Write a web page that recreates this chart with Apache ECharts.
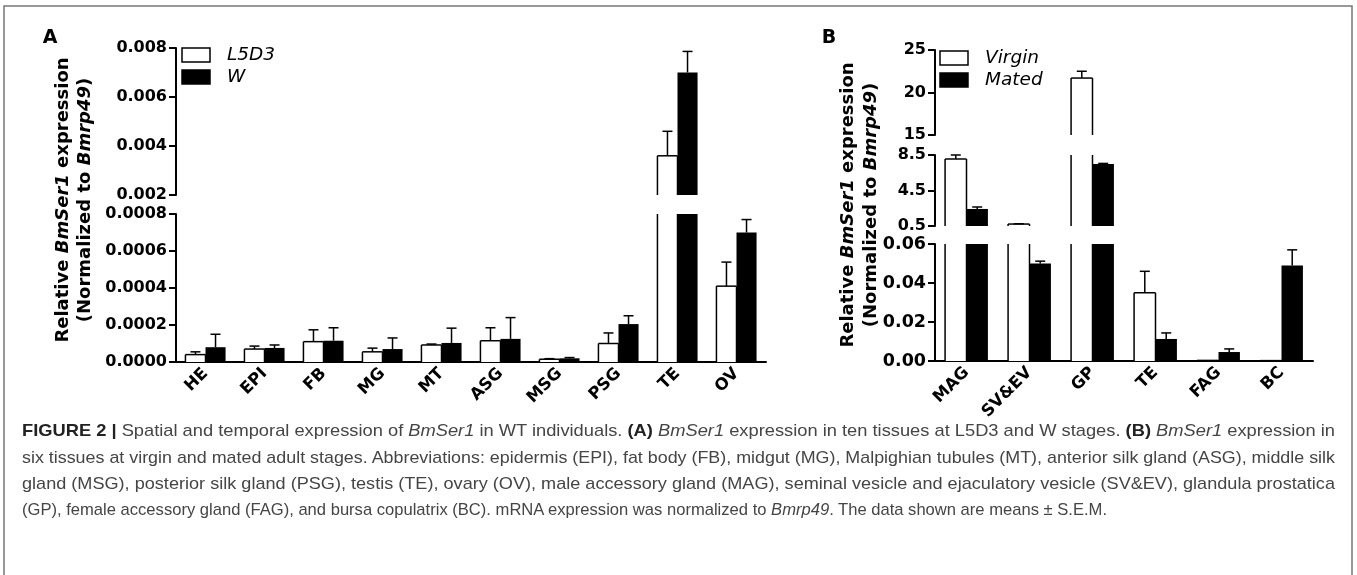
<!DOCTYPE html>
<html>
<head>
<meta charset="utf-8">
<title>BmSer1 expression</title>
<script src="https://cdn.jsdelivr.net/npm/echarts@6/dist/echarts.min.js"></script>
<style>
html, body { margin: 0; padding: 0; background: #fff; }
#wrap { position: relative; width: 1357px; height: 575px; overflow: hidden; }
#chart { position: absolute; left: 0; top: 0; width: 1357px; height: 575px; }
.cap {
  position: absolute; left: 22px; white-space: nowrap;
  font-family: "Liberation Sans", Arial, sans-serif; font-size: 17px; line-height: 20px;
  color: #454545; transform-origin: 0 50%;
}
.cap b { color: #222; }
</style>
</head>
<body>
<div id="wrap">
  <div id="chart"></div>
  <div class="cap" style="top:421px" data-w="1313"><b>FIGURE 2 |</b> Spatial and temporal expression of <i>BmSer1</i> in WT individuals. <b>(A)</b> <i>BmSer1</i> expression in ten tissues at L5D3 and W stages. <b>(B)</b> <i>BmSer1</i> expression in</div>
  <div class="cap" style="top:448px" data-w="1313">six tissues at virgin and mated adult stages. Abbreviations: epidermis (EPI), fat body (FB), midgut (MG), Malpighian tubules (MT), anterior silk gland (ASG), middle silk</div>
  <div class="cap" style="top:474px" data-w="1313">gland (MSG), posterior silk gland (PSG), testis (TE), ovary (OV), male accessory gland (MAG), seminal vesicle and ejaculatory vesicle (SV&amp;EV), glandula prostatica</div>
  <div class="cap" style="top:500px" data-w="1085">(GP), female accessory gland (FAG), and bursa copulatrix (BC). mRNA expression was normalized to <i>Bmrp49</i>. The data shown are means ± S.E.M.</div>
</div>
<script>
// panel A: ten tissues, L5D3 vs W (mean and +SEM)
var tissuesA = ['HE', 'EPI', 'FB', 'MG', 'MT', 'ASG', 'MSG', 'PSG', 'TE', 'OV'];
var l5d3Mean = [0.00004, 0.00007, 0.00011, 0.000055, 0.000092, 0.000115, 0.000015, 0.0001, 0.0036, 0.00041];
var l5d3Sem = [0.000015, 0.000016, 0.000064, 0.00002, 0.000005, 0.00007, 0.000003, 0.000057, 0.001, 0.00013];
var wMean = [0.00008, 0.000076, 0.000115, 0.00007, 0.000103, 0.000125, 0.00002, 0.000205, 0.0070, 0.0007];
var wSem = [0.00007, 0.000016, 0.00007, 0.00006, 0.00008, 0.000115, 0.000004, 0.000045, 0.00086, 0.00007];

// panel B: six tissues, virgin vs mated
var tissuesB = ['MAG', 'SV&EV', 'GP', 'TE', 'FAG', 'BC'];
var virginMean = [8.05, 0.72, 21.7, 0.035, 0.0003, 0.0002];
var virginSem = [0.45, 0.03, 0.8, 0.011, 0, 0];
var matedMean = [2.42, 0.050, 7.5, 0.0113, 0.0046, 0.049];
var matedSem = [0.22, 0.0012, 0.05, 0.0031, 0.0016, 0.008];

// broken axis segments, tick values
var ticksAHigh = [0.002, 0.004, 0.006, 0.008];
var ticksALow = [0, 0.0002, 0.0004, 0.0006, 0.0008];
var ticksBHigh = [15, 20, 25];
var ticksBMid = [0.5, 4.5, 8.5];
var ticksBLow = [0, 0.02, 0.04, 0.06];

var legendA = ['L5D3', 'W'];
var legendB = ['Virgin', 'Mated'];

var FONT = 'DejaVu Sans';

var segments = [
  { cats: tissuesA, ticks: ticksAHigh, digits: 3, left: 176, top: 48, width: 590, height: 147, fs: 16, white: [l5d3Mean, l5d3Sem], black: [wMean, wSem] },
  { cats: tissuesA, ticks: ticksALow, digits: 4, left: 176, top: 214, width: 590, height: 148, fs: 16, bottom: true, white: [l5d3Mean, l5d3Sem], black: [wMean, wSem] },
  { cats: tissuesB, ticks: ticksBHigh, digits: 0, left: 935, top: 50, width: 378, height: 85, fs: 16, white: [virginMean, virginSem], black: [matedMean, matedSem] },
  { cats: tissuesB, ticks: ticksBMid, digits: 1, left: 935, top: 155, width: 378, height: 71, fs: 16, white: [virginMean, virginSem], black: [matedMean, matedSem] },
  { cats: tissuesB, ticks: ticksBLow, digits: 2, left: 935, top: 244, width: 378, height: 117, fs: 17.5, bottom: true, white: [virginMean, virginSem], black: [matedMean, matedSem] }
];

function barItem(side, hollow) {
  return function (params, api) {
    var cs = params.coordSys;
    var i = api.value(0), v = api.value(1), e = api.value(2);
    var w = api.size([1, 0])[0] * 0.34;
    var xc = api.coord([i, 0])[0];
    var x0 = side < 0 ? xc - w : xc, x1 = x0 + w, xm = (x0 + x1) / 2;
    var top = cs.y, bot = cs.y + cs.height;
    function clampY(y) { return Math.max(top, Math.min(bot, y)); }
    function line(xa, ya, xb, yb) {
      return { type: 'line', shape: { x1: xa, y1: ya, x2: xb, y2: yb }, style: { stroke: '#000', lineWidth: 1.5 } };
    }
    var yBase = clampY(api.coord([i, 0])[1]);
    var yVal = api.coord([i, v])[1];
    var yTop = clampY(yVal);
    var kids = [];
    if (yTop < yBase) {
      kids.push({ type: 'rect', shape: { x: x0, y: yTop, width: w, height: yBase - yTop }, style: { fill: hollow ? '#fff' : '#000' } });
      if (hollow) {
        kids.push(line(x0, yBase, x0, yTop), line(x1, yBase, x1, yTop));
        if (yVal >= top) kids.push(line(x0, yTop, x1, yTop));
      }
    }
    if (e > 0) {
      var yErr = api.coord([i, v + e])[1];
      var ya = clampY(yVal), yb = clampY(yErr);
      if (yb < ya) kids.push(line(xm, ya, xm, yb));
      if (yErr >= top && yErr <= bot) kids.push(line(xm - 5, yErr, xm + 5, yErr));
    }
    return { type: 'group', children: kids };
  };
}

var grids = [], xAxes = [], yAxes = [], series = [];
segments.forEach(function (seg, s) {
  grids.push({ left: seg.left, top: seg.top, width: seg.width, height: seg.height, outerBoundsMode: 'none' });
  xAxes.push({
    gridIndex: s, type: 'category', data: seg.cats, show: !!seg.bottom,
    axisLine: { lineStyle: { color: '#000', width: 2 } },
    axisTick: { alignWithLabel: true, length: 7, lineStyle: { color: '#000', width: 2 } },
    axisLabel: { rotate: 45, interval: 0, margin: 9, color: '#000', fontFamily: FONT, fontWeight: 'bold', fontSize: 16.5 }
  });
  yAxes.push({
    gridIndex: s, type: 'value',
    min: seg.ticks[0], max: seg.ticks[seg.ticks.length - 1],
    axisLine: { show: true, lineStyle: { color: '#000', width: 2 } },
    axisTick: { show: true, length: 7, lineStyle: { color: '#000', width: 2 }, customValues: seg.ticks },
    axisLabel: {
      customValues: seg.ticks, margin: 9, color: '#000', fontFamily: FONT, fontWeight: 'bold', fontSize: seg.fs,
      formatter: (function (d) { return function (v) { return Number(v).toFixed(d); }; })(seg.digits)
    },
    splitLine: { show: false }
  });
  [[seg.white, -1, true], [seg.black, 1, false]].forEach(function (g) {
    series.push({
      type: 'custom', xAxisIndex: s, yAxisIndex: s, z: 3, silent: true,
      renderItem: barItem(g[1], g[2]),
      encode: { x: 0, y: 1 },
      data: seg.cats.map(function (c, i) { return [i, g[0][0][i], g[0][1][i]]; })
    });
  });
});

function titleText(x, y, a, b, c) {
  var base = { fontFamily: FONT, fontWeight: 'bold', fontSize: 18, fill: '#000' };
  return {
    type: 'text', x: x, y: y, rotation: Math.PI / 2,
    style: {
      text: '{n|' + a + '}{i|' + b + '}{n|' + c + '}',
      rich: { n: base, i: Object.assign({ fontStyle: 'italic' }, base) },
      textAlign: 'center', textVerticalAlign: 'middle'
    }
  };
}

function legendItems(x, y, names) {
  var out = [];
  names.forEach(function (n, k) {
    out.push({
      type: 'rect', shape: { x: x, y: y + k * 22, width: 28, height: 14 },
      style: { fill: k === 0 ? '#fff' : '#000', stroke: '#000', lineWidth: 1.5 }
    });
    out.push({
      type: 'text', x: x + 45, y: y + k * 22 + 7,
      style: { text: n, fontFamily: FONT, fontStyle: 'italic', fontSize: 18.5, fill: '#000', textAlign: 'left', textVerticalAlign: 'middle' }
    });
  });
  return out;
}

var graphics = [
  { type: 'rect', shape: { x: 4, y: 6, width: 1348, height: 600 }, style: { fill: 'none', stroke: '#777', lineWidth: 1.5 } },
  { type: 'text', x: 50, y: 38, style: { text: 'A', fontFamily: FONT, fontWeight: 'bold', fontSize: 19, fill: '#000', textAlign: 'center', textVerticalAlign: 'middle' } },
  { type: 'text', x: 829, y: 38, style: { text: 'B', fontFamily: FONT, fontWeight: 'bold', fontSize: 19, fill: '#000', textAlign: 'center', textVerticalAlign: 'middle' } },
  titleText(63, 200, 'Relative ', 'BmSer1', ' expression'),
  titleText(85, 200, '(Normalized to ', 'Bmrp49', ')'),
  titleText(848, 205, 'Relative ', 'BmSer1', ' expression'),
  titleText(871, 205, '(Normalized to ', 'Bmrp49', ')')
].concat(legendItems(182, 48, legendA), legendItems(940, 51, legendB));

var option = {
  animation: false,
  backgroundColor: '#fff',
  grid: grids,
  xAxis: xAxes,
  yAxis: yAxes,
  series: series,
  graphic: graphics
};

var myChart = echarts.init(document.getElementById('chart'), null, { renderer: 'canvas' });
myChart.setOption(option);

// fit each caption line to its measured width in the figure
document.querySelectorAll('.cap').forEach(function (el) {
  var target = Number(el.getAttribute('data-w'));
  var natural = el.getBoundingClientRect().width;
  if (natural > 0) el.style.transform = 'scaleX(' + (target / natural) + ')';
});
</script>
</body>
</html>
